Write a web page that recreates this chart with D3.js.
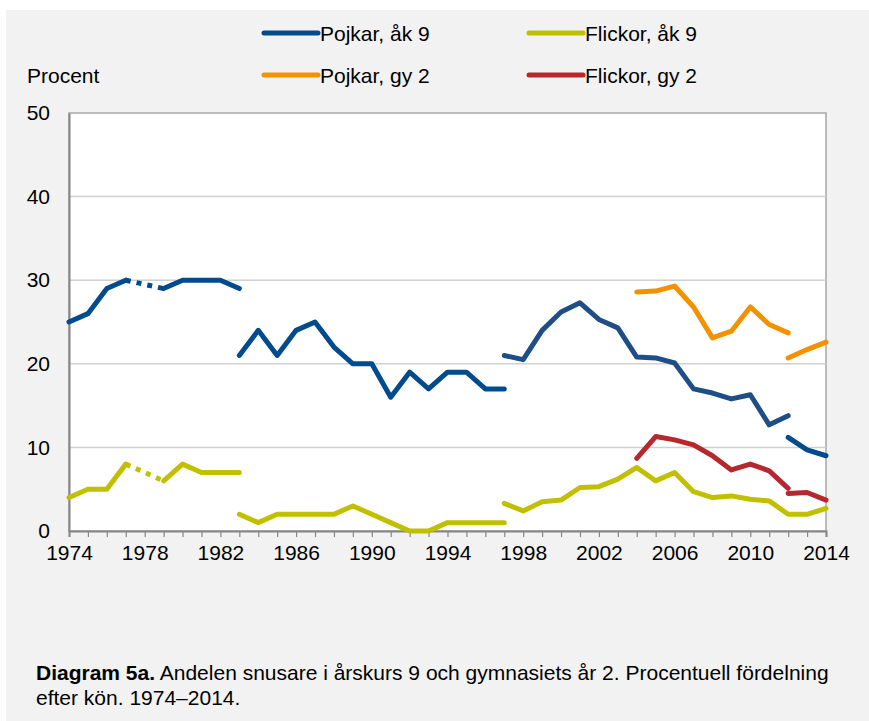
<!DOCTYPE html>
<html><head><meta charset="utf-8">
<script src="https://cdn.jsdelivr.net/npm/d3@7"></script>
<style>html,body{margin:0;padding:0;background:#fff;}svg{display:block;font-family:"Liberation Sans",Arial,sans-serif;}</style>
</head><body>
<script>
// ---- data ----
const yTicks = [0, 10, 20, 30, 40, 50];
const xTickLabels = [1974, 1978, 1982, 1986, 1990, 1994, 1998, 2002, 2006, 2010, 2014];
const allYears = [1974,1975,1976,1977,1978,1979,1980,1981,1982,1983,1984,1985,1986,1987,1988,1989,1990,1991,1992,1993,1994,1995,1996,1997,1998,1999,2000,2001,2002,2003,2004,2005,2006,2007,2008,2009,2010,2011,2012,2013,2014];

// Pojkar, åk 9 (segments: start year + values)
const pojkarAk9_1 = [25, 26, 29, 30];            // 1974-1977
const pojkarAk9_gap = [30, 29];                   // 1977 -> 1979 (dotted)
const pojkarAk9_2 = [29, 30, 30, 30, 29];        // 1979-1983
const pojkarAk9_3 = [21, 24, 21, 24, 25, 22, 20, 20, 16, 19, 17, 19, 19, 17, 17]; // 1983-1997
const pojkarAk9_4 = [21, 20.5, 24, 26.2, 27.3, 25.3, 24.3, 20.8, 20.7, 20.1, 17, 16.5, 15.8, 16.3, 12.7, 13.8]; // 1997-2012
const pojkarAk9_5 = [11.2, 9.7, 9.0];            // 2012-2014

// Flickor, åk 9
const flickorAk9_1 = [4, 5, 5, 8];               // 1974-1977
const flickorAk9_gap = [8, 6];                    // 1977 -> 1979 (dotted)
const flickorAk9_2 = [6, 8, 7, 7, 7];            // 1979-1983
const flickorAk9_3 = [2, 1, 2, 2, 2, 2, 3, 2, 1, 0, 0, 1, 1, 1, 1]; // 1983-1997
const flickorAk9_4 = [3.3, 2.4, 3.5, 3.7, 5.2, 5.3, 6.2, 7.6, 6.0, 7.0, 4.7, 4.0, 4.2, 3.8, 3.6, 2.0, 2.0, 2.7]; // 1997-2014

// Pojkar, gy 2
const pojkarGy2_1 = [28.6, 28.7, 29.3, 26.8, 23.1, 23.9, 26.8, 24.7, 23.7]; // 2004-2012
const pojkarGy2_2 = [20.7, 21.7, 22.6];          // 2012-2014

// Flickor, gy 2
const flickorGy2_1 = [8.7, 11.3, 10.9, 10.3, 9.0, 7.3, 8.0, 7.2, 5.1]; // 2004-2012
const flickorGy2_2 = [4.5, 4.6, 3.7];            // 2012-2014

const legendNames = ["Pojkar, åk 9", "Flickor, åk 9", "Pojkar, gy 2", "Flickor, gy 2"];

// ---- build ----
const W = 869, H = 721;
const FS = 21;
const colors = { pAk9: "#004b8d", pAk9b: "#1f4e87", fAk9: "#c0c000", pGy2: "#f39200", fGy2: "#b5282e" };

const svg = d3.select("body").append("svg").attr("width", W).attr("height", H);
svg.append("rect").attr("x", 6).attr("y", 10).attr("width", W - 6).attr("height", H - 10).attr("fill", "#f2f2f2");

const x = d3.scaleLinear().domain([1974, 2014]).range([69, 826]);
const y = d3.scaleLinear().domain([0, 50]).range([531, 113]);

svg.append("rect").attr("x", 69).attr("y", 113).attr("width", 826 - 69).attr("height", 531 - 113)
  .attr("fill", "#fff").attr("stroke", "#a6a6a6").attr("stroke-width", 1.5);

// gridlines
svg.append("g").selectAll("line").data(yTicks.filter(d => d > 0 && d < 50)).join("line")
  .attr("x1", 69).attr("x2", 826).attr("y1", d => y(d)).attr("y2", d => y(d))
  .attr("stroke", "#d0d0d0").attr("stroke-width", 1.5);

// y axis
const yAxis = svg.append("g").attr("transform", "translate(69,0)")
  .call(d3.axisLeft(y).tickValues(yTicks).tickSize(0).tickPadding(19));
yAxis.select(".domain").attr("stroke", "#868686").attr("stroke-width", 2);
yAxis.selectAll("text").attr("font-size", FS).attr("fill", "#000").attr("font-family", "Liberation Sans, Arial, sans-serif");

// x axis
const xAxis = svg.append("g").attr("transform", "translate(0,531)")
  .call(d3.axisBottom(x).tickValues(allYears).tickSize(6).tickFormat(d => xTickLabels.includes(d) ? d : ""));
xAxis.select(".domain").attr("stroke", "#868686").attr("stroke-width", 2);
xAxis.selectAll(".tick line").attr("stroke", "#868686").attr("stroke-width", 1.2);
xAxis.selectAll("text").attr("font-size", FS).attr("fill", "#000").attr("dy", "0.95em")
  .attr("font-family", "Liberation Sans, Arial, sans-serif");

// lines
const line = d3.line().x(d => x(d[0])).y(d => y(d[1]));
function seg(startYear, vals) { return vals.map((v, i) => [startYear + i, v]); }
function gapSeg(y0, y1, vals) { return [[y0, vals[0]], [y1, vals[1]]]; }

const series = [
  { pts: seg(1983, flickorAk9_3), c: colors.fAk9 },
  { pts: seg(1974, flickorAk9_1), c: colors.fAk9 },
  { pts: gapSeg(1977, 1979, flickorAk9_gap), c: colors.fAk9, dash: true },
  { pts: seg(1979, flickorAk9_2), c: colors.fAk9 },
  { pts: seg(1997, flickorAk9_4), c: colors.fAk9 },
  { pts: seg(1974, pojkarAk9_1), c: colors.pAk9 },
  { pts: gapSeg(1977, 1979, pojkarAk9_gap), c: colors.pAk9, dash: true },
  { pts: seg(1979, pojkarAk9_2), c: colors.pAk9 },
  { pts: seg(1983, pojkarAk9_3), c: colors.pAk9 },
  { pts: seg(1997, pojkarAk9_4), c: colors.pAk9b },
  { pts: seg(2012, pojkarAk9_5), c: colors.pAk9 },
  { pts: seg(2004, pojkarGy2_1), c: colors.pGy2 },
  { pts: seg(2012, pojkarGy2_2), c: colors.pGy2 },
  { pts: seg(2004, flickorGy2_1), c: colors.fGy2 },
  { pts: seg(2012, flickorGy2_2), c: colors.fGy2 }
];
svg.append("g").selectAll("path").data(series).join("path")
  .attr("d", d => line(d.pts)).attr("fill", "none").attr("stroke", d => d.c)
  .attr("stroke-width", 5).attr("stroke-linejoin", "round")
  .attr("stroke-linecap", d => d.dash ? "butt" : "round")
  .attr("stroke-dasharray", d => d.dash ? "5,6" : null);

// legend
const legendPos = [[262, 33], [527, 33], [262, 75], [527, 75]];
const legendColors = [colors.pAk9, colors.fAk9, colors.pGy2, colors.fGy2];
const lg = svg.append("g").selectAll("g").data(legendNames).join("g")
  .attr("transform", (d, i) => `translate(${legendPos[i][0]},${legendPos[i][1]})`);
lg.append("line").attr("x1", 2).attr("x2", 56).attr("y1", 0).attr("y2", 0)
  .attr("stroke", (d, i) => legendColors[i]).attr("stroke-width", 5).attr("stroke-linecap", "round");
lg.append("text").attr("x", 58).attr("y", 7.5).attr("font-size", FS).text(d => d);

svg.append("text").attr("x", 27).attr("y", 82.5).attr("font-size", FS).text("Procent");

// caption
const cap = svg.append("text").attr("x", 36).attr("y", 680).attr("font-size", FS);
cap.append("tspan").attr("font-weight", "bold").text("Diagram 5a.");
cap.append("tspan").text(" Andelen snusare i årskurs 9 och gymnasiets år 2. Procentuell fördelning");
svg.append("text").attr("x", 36).attr("y", 705).attr("font-size", FS).text("efter kön. 1974–2014.");
</script>
</body></html>
